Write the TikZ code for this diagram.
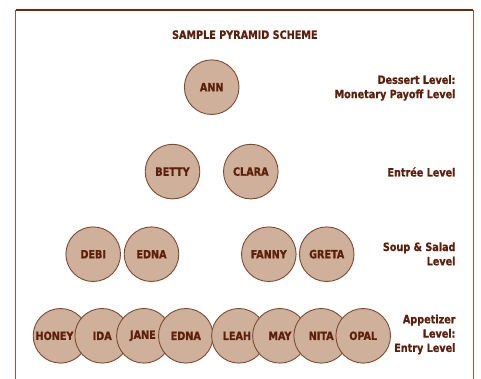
\documentclass[tikz,border=0pt]{standalone}
\usepackage{fontspec}
\newfontfamily\labfont{DejaVu Sans Condensed Bold}[FakeStretch=0.94,FakeBold=0.8]
\definecolor{frameTop}{HTML}{6B2A10}
\definecolor{frameSide}{HTML}{8B5A48}
\definecolor{circFill}{HTML}{CFB09B}
\definecolor{circEdge}{HTML}{7D4A33}
\definecolor{txt}{HTML}{5C1F0C}
\begin{document}
\begin{tikzpicture}[x=1pt,y=-1pt,
  person/.style={circle,draw=circEdge,fill=circFill,line width=0.9pt,minimum size=54.6pt,inner sep=0pt,
    font=\labfont\fontsize{11.4}{12}\selectfont,text=txt},
  lvl/.style={align=right,anchor=east,inner sep=0pt,text=txt,
    font=\labfont\fontsize{11.4}{14.3}\selectfont},
  ttl/.style={inner sep=0pt,text=txt,font=\labfont\fontsize{11.4}{12}\selectfont}]
\useasboundingbox (0,0) rectangle (481,379);
% frame
\coordinate (fbl) at (15.5,379);
\coordinate (ftl) at (15.5,10);
\coordinate (ftr) at (473.3,10);
\coordinate (fbr) at (473.3,379);
\draw[frameSide,line width=1.3pt] (fbl) -- (ftl);
\draw[frameSide,line width=1.3pt] (ftr) -- (fbr);
\draw[frameTop,line width=1.3pt] (ftl) -- (ftr);
% title
\node[ttl] (title) at (244.8,34.7) {SAMPLE PYRAMID SCHEME};
% level 1
\node[person] (ann) at (211.7,87.2) {ANN};
% level 2
\node[person] (betty) at (172.5,171.6) {BETTY};
\node[person] (clara) at (250.8,171.6) {CLARA};
% level 3
\node[person] (debi) at (93.2,254.2) {DEBI};
\node[person] (edna1) at (151.5,254.2) {EDNA};
\node[person] (fanny) at (268.8,254.2) {FANNY};
\node[person] (greta) at (326.7,254.2) {GRETA};
% level 4
\node[person] (honey) at (60.5,335.8) {\kern-12pt HONEY};
\node[person] (ida) at (102.2,335.8) {IDA};
\node[person] (jane) at (143.9,335.8) {\kern-2pt JANE};
\node[person] (edna2) at (185.8,335.8) {EDNA};
\node[person] (leah) at (238.9,335.8) {\kern-4pt LEAH};
\node[person] (may) at (279.9,335.8) {MAY};
\node[person] (nita) at (321.2,335.8) {NITA};
\node[person] (opal) at (363.2,335.8) {OPAL};
% level labels
\node[lvl] (l1) at (455.7,87.9) {Dessert Level:\\Monetary Payoff Level};
\node[lvl] (l2) at (455.7,172) {Entr\'ee Level};
\node[lvl] (l3) at (455.7,253.9) {Soup \& Salad\\Level};
\node[lvl] (l4) at (455.7,334.5) {Appetizer\\Level:\\Entry Level};
\end{tikzpicture}
\end{document}
